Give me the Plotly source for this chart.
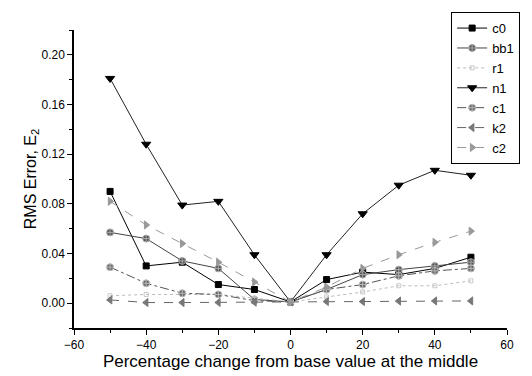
import plotly.graph_objects as go

x = [-50, -40, -30, -20, -10, 0, 10, 20, 30, 40, 50]
c0 = [0.090, 0.030, 0.033, 0.015, 0.011, 0.001, 0.019, 0.025, 0.023, 0.028, 0.037]
bb1 = [0.057, 0.052, 0.034, 0.028, 0.003, 0.001, 0.011, 0.023, 0.027, 0.030, 0.033]
r1 = [0.006, 0.007, 0.007, 0.007, 0.004, 0.001, 0.005, 0.009, 0.014, 0.014, 0.018]
n1 = [0.181, 0.128, 0.079, 0.082, 0.039, 0.001, 0.039, 0.072, 0.095, 0.107, 0.103]
c1 = [0.029, 0.016, 0.008, 0.007, 0.002, 0.001, 0.011, 0.015, 0.022, 0.026, 0.028]
k2 = [0.0026, 0.0005, 0.0005, 0.0006, 0.0008, 0.001, 0.0013, 0.0013, 0.0017, 0.0018, 0.0018]
c2 = [0.082, 0.063, 0.048, 0.033, 0.017, 0.001, 0.013, 0.028, 0.039, 0.049, 0.058]

series = [
    ("c0", c0, "square", "#000000", "#000000", "#000000", "solid", 6),
    ("bb1", bb1, "circle-cross", "#555555", "#aaaaaa", "#444444", "solid", 7),
    ("r1", r1, "square-open", "#c8c8c8", "#c8c8c8", "#bbbbbb", "dot", 4),
    ("n1", n1, "triangle-down", "#000000", "#000000", "#222222", "solid", 8),
    ("c1", c1, "circle-cross", "#666666", "#bbbbbb", "#555555", "dashdot", 7),
    ("k2", k2, "triangle-left", "#777777", "#777777", "#666666", "dash", 7),
    ("c2", c2, "triangle-right", "#999999", "#999999", "#999999", "dash", 7),
]

fig = go.Figure()
for name, ys, sym, mc, mlc, lc, dash, ms in series:
    fig.add_trace(go.Scatter(
        x=x, y=ys, name=name, mode="lines+markers",
        line=dict(color=lc, width=1, dash=dash),
        marker=dict(symbol=sym, size=ms, color=mc, line=dict(color=mlc, width=1)),
    ))

fig.update_layout(
    width=532, height=376,
    margin=dict(l=74, r=25, t=28, b=48),
    paper_bgcolor="white", plot_bgcolor="white",
    font=dict(family="Liberation Sans, Arial, sans-serif", size=12, color="black"),
    showlegend=True,
    legend=dict(
        x=0.871, y=1.06, xanchor="left", yanchor="top",
        bordercolor="black", borderwidth=1, bgcolor="white",
        font=dict(size=13), itemwidth=30, tracegroupgap=0,
    ),
)
fig.update_xaxes(
    range=[-60, 60], tickmode="linear", tick0=-60, dtick=20, automargin=False,
    ticks="outside", ticklen=5, tickwidth=1, tickcolor="black",
    showline=True, linecolor="black", linewidth=1.5, showgrid=False, zeroline=False,
    minor=dict(dtick=10, tick0=-60, ticks="outside", ticklen=3, tickcolor="black"),
    title=dict(text="Percentage change from base value at the middle", font=dict(size=17), standoff=2),
    tickfont=dict(size=12),
)
fig.update_yaxes(
    range=[-0.02, 0.22], tickmode="array", automargin=False,
    tickvals=[0.0, 0.04, 0.08, 0.12, 0.16, 0.20],
    ticktext=["0.00", "0.04", "0.08", "0.12", "0.16", "0.20"],
    ticks="outside", ticklen=5, tickwidth=1, tickcolor="black",
    showline=True, linecolor="black", linewidth=1.5, showgrid=False, zeroline=False,
    minor=dict(tickvals=[-0.02, 0.02, 0.06, 0.10, 0.14, 0.18, 0.22], ticks="outside", ticklen=3, tickcolor="black"),
    title=dict(text="RMS Error, E<sub>2</sub>", font=dict(size=16), standoff=0),
    tickfont=dict(size=12),
)

fig.write_html("out.html")
